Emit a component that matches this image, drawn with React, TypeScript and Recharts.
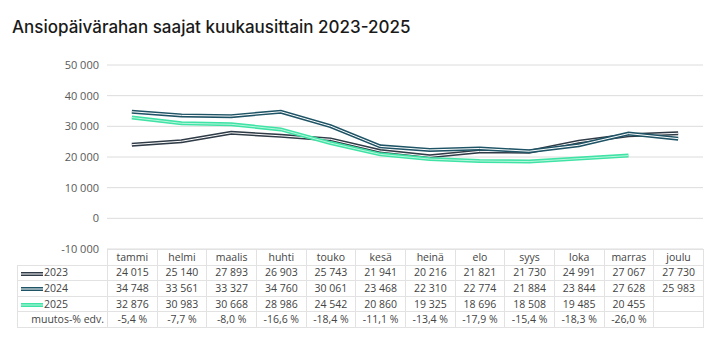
import { LineChart, Line, XAxis, YAxis, CartesianGrid } from "recharts"

// Ansiopäivärahan saajat, kuukausittain
const months = ['tammi', 'helmi', 'maalis', 'huhti', 'touko', 'kesä', 'heinä', 'elo', 'syys', 'loka', 'marras', 'joulu']
const values2023 = [24015, 25140, 27893, 26903, 25743, 21941, 20216, 21821, 21730, 24991, 27067, 27730]
const values2024 = [34748, 33561, 33327, 34760, 30061, 23468, 22310, 22774, 21884, 23844, 27628, 25983]
const values2025 = [32876, 30983, 30668, 28986, 24542, 20860, 19325, 18696, 18508, 19485, 20455, null]
const changeLabels = ['-5,4 %', '-7,7 %', '-8,0 %', '-16,6 %', '-18,4 %', '-11,1 %', '-13,4 %', '-17,9 %', '-15,4 %', '-18,3 %', '-26,0 %', '']
const yTicks = [-10000, 0, 10000, 20000, 30000, 40000, 50000]

const series = [
  { key: 'y2023', name: '2023', values: values2023, outer: '#2f3b46', inner: '#ffffff' },
  { key: 'y2024', name: '2024', values: values2024, outer: '#1f5466', inner: '#ffffff' },
  { key: 'y2025', name: '2025', values: values2025, outer: '#3fe3a5', inner: '#b8f6dd' },
]

const data = months.map((m, i) => ({
  month: m,
  y2023: values2023[i],
  y2024: values2024[i],
  y2025: values2025[i],
}))

const fmt = (n: number | null) => {
  if (n === null || n === undefined) return ''
  const s = String(Math.abs(n)).replace(/\B(?=(\d{3})+(?!\d))/g, ' ')
  return n < 0 ? '-' + s : s
}

const PLOT_LEFT = 107
const PLOT_RIGHT = 703
const COL_W = (PLOT_RIGHT - PLOT_LEFT) / 12
const TABLE_TOP = 249
const ROW_H = 14.6
const border = '1px solid #e2e2e2'

const Swatch = ({ outer, inner }: { outer: string; inner: string }) => (
  <svg width={22} height={8} style={{ verticalAlign: 'middle', marginRight: 1 }}>
    <line x1={0} y1={4} x2={22} y2={4} stroke={outer} strokeWidth={4} />
    <line x1={0} y1={4} x2={22} y2={4} stroke={inner} strokeWidth={1} />
  </svg>
)

const cellStyle: React.CSSProperties = {
  border,
  padding: 0,
  height: ROW_H,
  textAlign: 'center',
  whiteSpace: 'nowrap',
  overflow: 'hidden',
}

const App = () => {
  return (
    <div style={{ position: 'fixed', left: 0, top: 0, width: 720, height: 338, background: '#fff', overflow: 'hidden' }}>
      <div style={{ position: 'absolute', left: 12, top: 17, fontFamily: 'Inter', fontSize: 17, fontWeight: 500, color: '#1a1a1a', whiteSpace: 'nowrap' }}>
        Ansiopäivärahan saajat kuukausittain 2023-2025
      </div>
      <div style={{ position: 'absolute', left: 0, top: 0 }}>
        <LineChart width={720} height={262} data={data} margin={{ top: 65, right: 17, bottom: 13, left: 47 }}>
          <CartesianGrid vertical={false} stroke="#dcdcdc" />
          <XAxis dataKey="month" hide padding={{ left: COL_W / 2, right: COL_W / 2 }} />
          <YAxis
            width={60}
            domain={[-10000, 50000]}
            ticks={yTicks}
            tickFormatter={fmt}
            axisLine={false}
            tickLine={false}
            tick={{ fill: '#595959', fontSize: 11, fontFamily: 'Open Sans' }}
          />
          {series.map(s => [
            <Line key={s.key + 'o'} dataKey={s.key} stroke={s.outer} strokeWidth={4} dot={false} isAnimationActive={false} />,
            <Line key={s.key + 'i'} dataKey={s.key} stroke={s.inner} strokeWidth={1} dot={false} isAnimationActive={false} />,
          ])}
        </LineChart>
      </div>
      <table
        style={{
          position: 'absolute',
          left: 17,
          top: TABLE_TOP,
          width: PLOT_RIGHT - 17,
          borderCollapse: 'collapse',
          tableLayout: 'fixed',
          fontFamily: 'Open Sans',
          fontSize: 10.5,
          color: '#444',
          lineHeight: '13px',
        }}
      >
        <colgroup>
          <col style={{ width: PLOT_LEFT - 17 }} />
          {months.map(m => (
            <col key={m} style={{ width: COL_W }} />
          ))}
        </colgroup>
        <tbody>
          <tr>
            <td style={{ ...cellStyle, border: 'none' }} />
            {months.map(m => (
              <td key={m} style={cellStyle}>{m}</td>
            ))}
          </tr>
          {series.map(s => (
            <tr key={s.key}>
              <td style={{ ...cellStyle, textAlign: 'left', paddingLeft: 3 }}>
                <Swatch outer={s.outer} inner={s.inner} />
                {s.name}
              </td>
              {s.values.map((v, i) => (
                <td key={i} style={cellStyle}>{fmt(v)}</td>
              ))}
            </tr>
          ))}
          <tr>
            <td style={{ ...cellStyle, textAlign: 'right', paddingRight: 3 }}>muutos-% edv.</td>
            {changeLabels.map((c, i) => (
              <td key={i} style={cellStyle}>{c}</td>
            ))}
          </tr>
        </tbody>
      </table>
    </div>
  )
}

export default App
